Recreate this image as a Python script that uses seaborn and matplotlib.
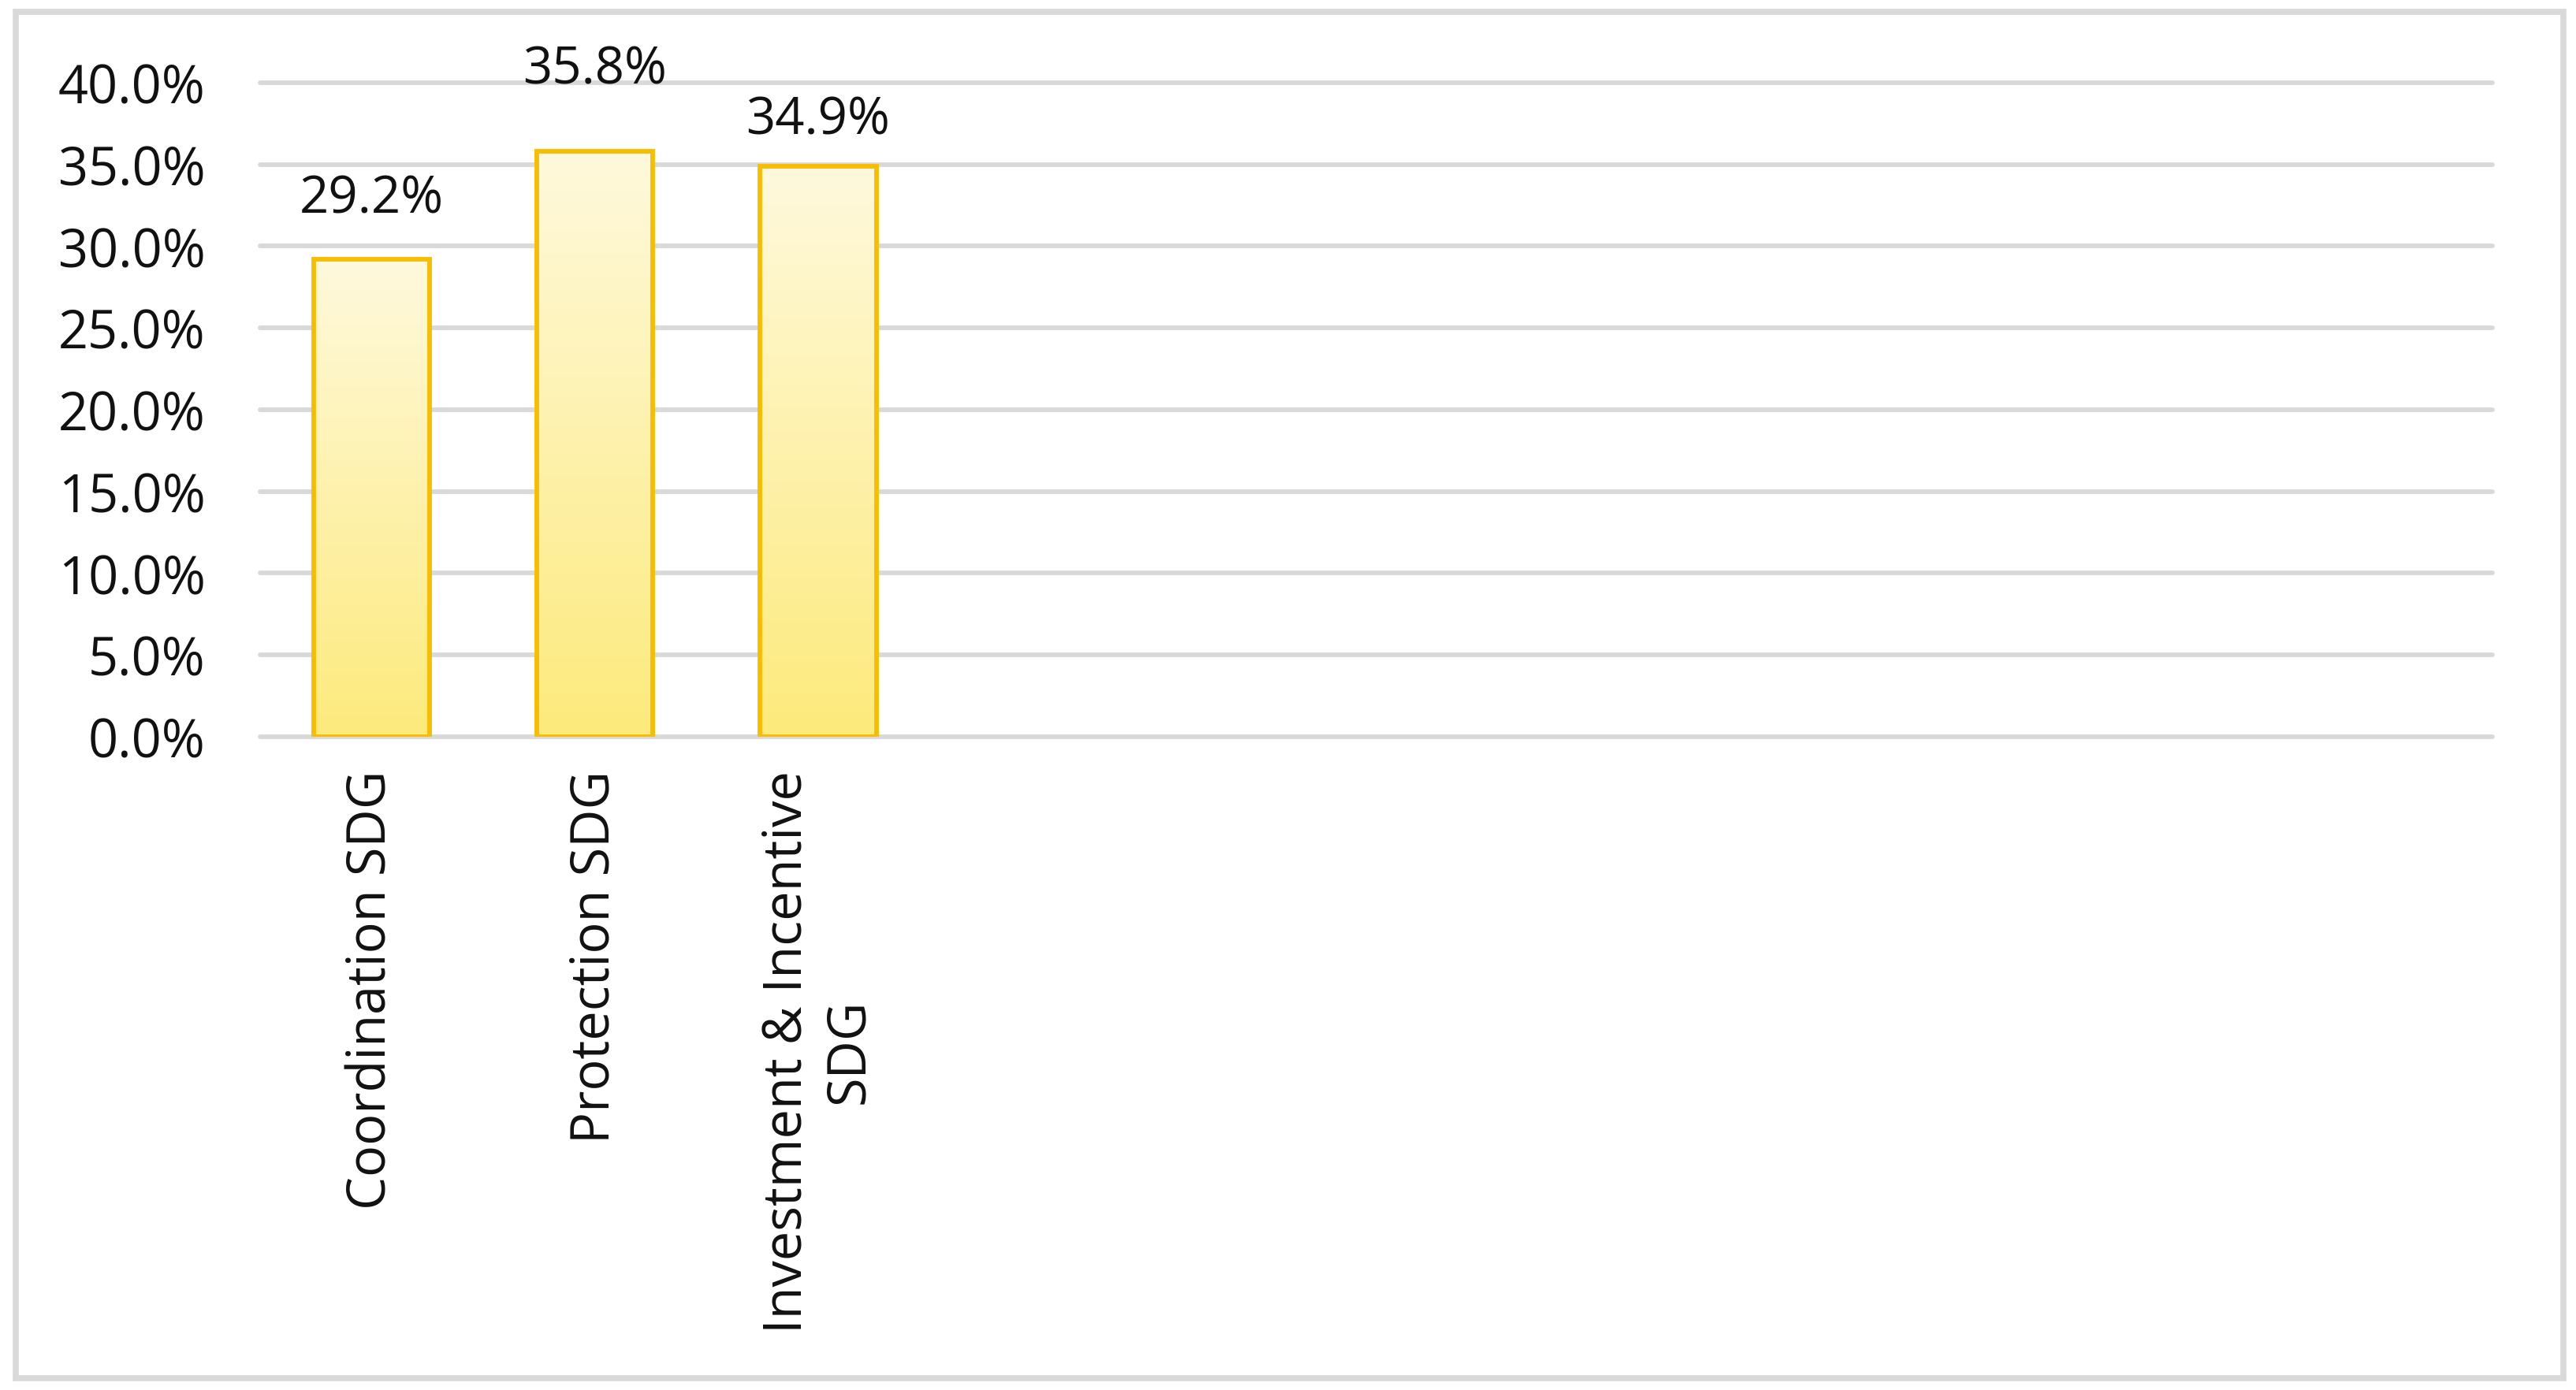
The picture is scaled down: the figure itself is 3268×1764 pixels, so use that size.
import numpy as np
import pandas as pd
import matplotlib.pyplot as plt
import seaborn as sns
from matplotlib.colors import LinearSegmentedColormap
from matplotlib.patches import Rectangle

## data
categories = ['Coordination SDG', 'Protection SDG', 'Investment & Incentive\nSDG']
shares = [0.292, 0.358, 0.349]
empty_slots = [' ' * i for i in range(1, 8)]   # Excel left room for 7 more categories
yticks = [0.0, 0.05, 0.10, 0.15, 0.20, 0.25, 0.30, 0.35, 0.40]
label_offsets = [43, 62, 30]   # points above bar top, labels were hand-placed

sns.set_theme(style='white')
plt.rcParams['font.family'] = ['Open Sans', 'DejaVu Sans']

df = pd.DataFrame({'category': categories, 'share': shares})

fig = plt.figure(figsize=(32.68, 17.65), dpi=100)
ax = fig.add_axes([0.101, 0.4697, 0.8665, 0.4703])

sns.barplot(data=df, x='category', y='share', order=categories + empty_slots,
            width=0.52, ax=ax)

# vertical yellow gradient inside each bar
cmap = LinearSegmentedColormap.from_list('yel', ['#FDEA7C', '#FFF9DD'])
grad = np.linspace(0, 1, 256).reshape(-1, 1)
bars = [p for p in ax.patches if not np.isnan(p.get_height()) and p.get_height() > 0]
for p, off in zip(bars, label_offsets):
    x0, y0 = p.get_x(), p.get_y()
    w, h = p.get_width(), p.get_height()
    im = ax.imshow(grad, cmap=cmap, origin='lower', aspect='auto',
                   extent=(x0, x0 + w, y0, y0 + h), zorder=2)
    im.set_clip_path(p)
    p.set_facecolor('none')
    p.set_edgecolor('#F8BC00')
    p.set_linewidth(4.2)
    p.set_zorder(3)
    ax.annotate(f'{h:.1%}', (x0 + w / 2, y0 + h), xytext=(0, off),
                textcoords='offset points', ha='center', va='baseline',
                fontsize=47, color='#111111')

ax.set_xlim(-0.5, 9.5)
ax.set_ylim(0, 0.40)
ax.set_yticks(yticks)
ax.set_yticklabels([f'{v:.1%}' for v in yticks])
ax.yaxis.grid(True, color='#d9d9d9', linewidth=4.2, zorder=0)
for gl in ax.get_ygridlines():
    gl.set_clip_on(False)
ax.set_axisbelow(True)
for s in ax.spines.values():
    s.set_visible(False)
ax.tick_params(axis='y', length=0, pad=50, labelsize=48, labelcolor='#111111')
ax.tick_params(axis='x', length=0, pad=30, labelsize=48, labelcolor='#111111')
for lab in ax.get_xticklabels():
    lab.set_rotation(90)
    lab.set_multialignment('center')
ax.set_xlabel('')
ax.set_ylabel('')

# chart area border
fig.patches.append(Rectangle((20 / 3268, 1 - 1750 / 1765), 3232 / 3268, 1734 / 1765,
                             transform=fig.transFigure, fill=False,
                             edgecolor='#d9d9d9', linewidth=5.5))

fig.savefig('out.png', dpi=100, facecolor='white')
